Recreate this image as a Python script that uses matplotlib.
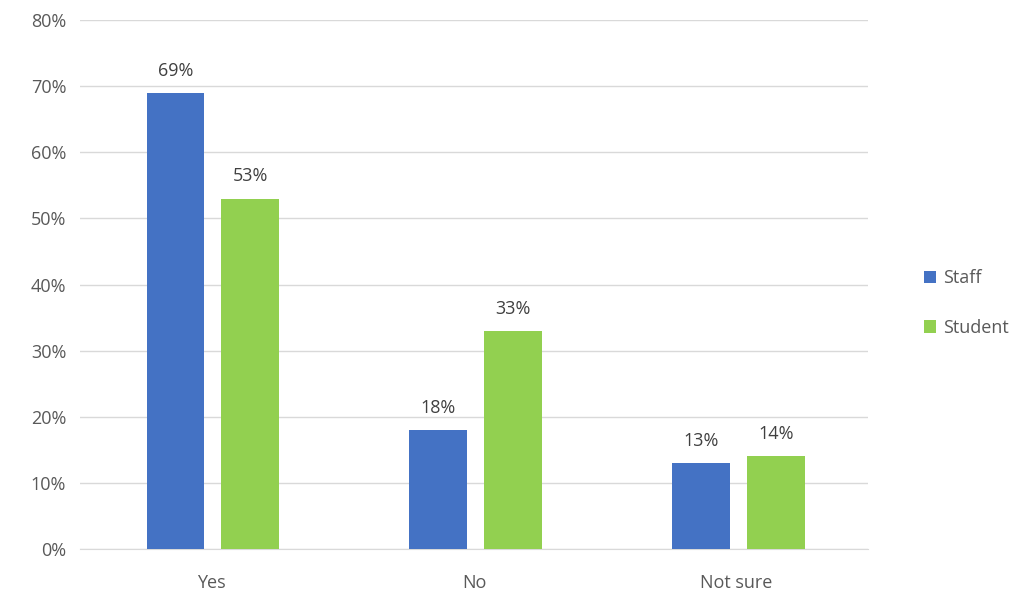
import matplotlib.pyplot as plt
import numpy as np

categories = ['Yes', 'No', 'Not sure']
staff = [0.69, 0.18, 0.13]
student = [0.53, 0.33, 0.14]
series_names = ['Staff', 'Student']
colors = ['#4472C4', '#92D050']

plt.rcParams['font.family'] = ['Open Sans', 'DejaVu Sans']

fig = plt.figure(figsize=(10.26, 5.97), dpi=100)
ax = fig.add_axes([0.078, 0.0804, 0.768, 0.8861])

x = np.arange(len(categories))
width = 0.22
offset = 0.1425

for vals, off, color, name in zip([staff, student], [-offset, offset], colors, series_names):
	bars = ax.bar(x + off + 0.006, vals, width, color=color, label=name, zorder=3)
	for b, v in zip(bars, vals):
		ax.text(b.get_x() + b.get_width() / 2, v + 0.02, f'{v:.0%}',
			ha='center', va='bottom', fontsize=13, color='#404040')

ax.set_xlim(-0.5, 2.5)
ax.set_ylim(0, 0.8)
ax.set_yticks(np.arange(0, 0.81, 0.1))
ax.set_yticklabels([f'{int(round(t * 100))}%' for t in np.arange(0, 0.81, 0.1)])
ax.set_xticks(x)
ax.set_xticklabels(categories)
ax.tick_params(axis='both', length=0, labelsize=13, labelcolor='#595959', pad=10)
ax.tick_params(axis='x', pad=18)
ax.grid(axis='y', color='#D9D9D9', linewidth=1, zorder=0)
for s in ['top', 'right', 'left']:
	ax.spines[s].set_visible(False)
ax.spines['bottom'].set_color('#D9D9D9')

ax.legend(loc='center left', bbox_to_anchor=(1.05, 0.465), frameon=False,
	fontsize=13, handlelength=0.7, handleheight=0.7, labelspacing=1.75,
	handletextpad=0.4, labelcolor='#595959')

fig.savefig('out.png', dpi=100)
